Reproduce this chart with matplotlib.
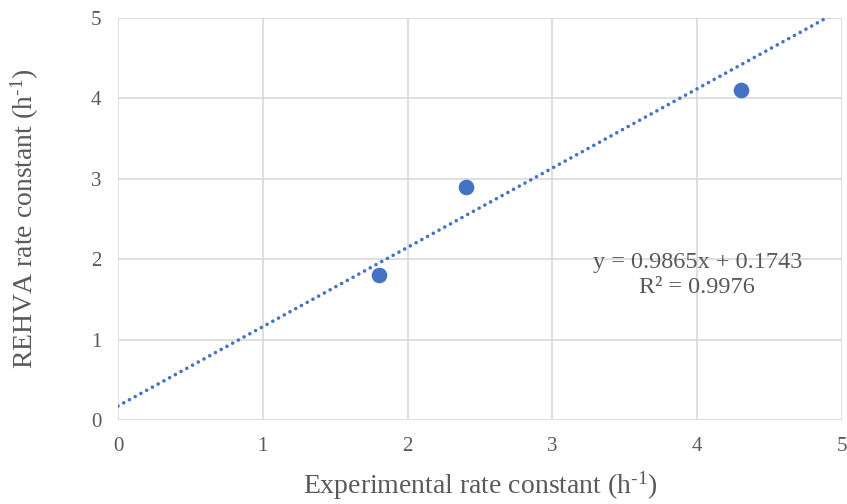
import matplotlib
matplotlib.use("Agg")
import matplotlib.pyplot as plt
import numpy as np

plt.rcParams['font.family'] = ['Liberation Serif', 'DejaVu Serif']
plt.rcParams['mathtext.fontset'] = 'custom'
plt.rcParams['mathtext.rm'] = 'Liberation Serif'
plt.rcParams['mathtext.it'] = 'Liberation Serif:italic'

exp_k = [1.8, 2.4, 4.3]
rehva_k = [1.8, 2.9, 4.1]
slope = 0.9865
intercept = 0.1743
r2 = 0.9976
ticks = [0, 1, 2, 3, 4, 5]

fig = plt.figure(figsize=(8.47, 5.04), dpi=100)
ax = fig.add_axes([118/847, 1-420/504, (842-118)/847, (420-18)/504])

grid_c = '#d9d9d9'
ax.set_xlim(0, 5)
ax.set_ylim(0, 5)
ax.set_xticks(ticks)
ax.set_yticks(ticks)
ax.grid(True, color=grid_c, linewidth=1.2)
ax.set_axisbelow(True)
for s in ax.spines.values():
    s.set_visible(False)
ax.tick_params(length=0, labelsize=15, colors='#595959', pad=12)

xs = np.array([0, 5.0])
ax.plot(xs, slope*xs + intercept, linestyle=(0, (0.01, 1.8)), color='#4472C4', linewidth=2.6,
        dash_capstyle='round', clip_on=True, zorder=2)
ax.scatter(exp_k, rehva_k, s=105, color='#4472C4', zorder=3)

ax.text(4.0, 1.8, f'y = {slope}x + {intercept}\nR² = {r2}', ha='center', va='center',
        fontsize=17.5, color='#595959', linespacing=1.25)

sup = '$^{\\mathrm{\u2010}1}$'
ax.set_xlabel('Experimental rate constant (h' + sup + ')', fontsize=20, color='#595959', labelpad=10)
ax.set_ylabel('REHVA rate constant (h' + sup + ')', fontsize=20, color='#595959', labelpad=36)

fig.savefig('out.png', dpi=100)
